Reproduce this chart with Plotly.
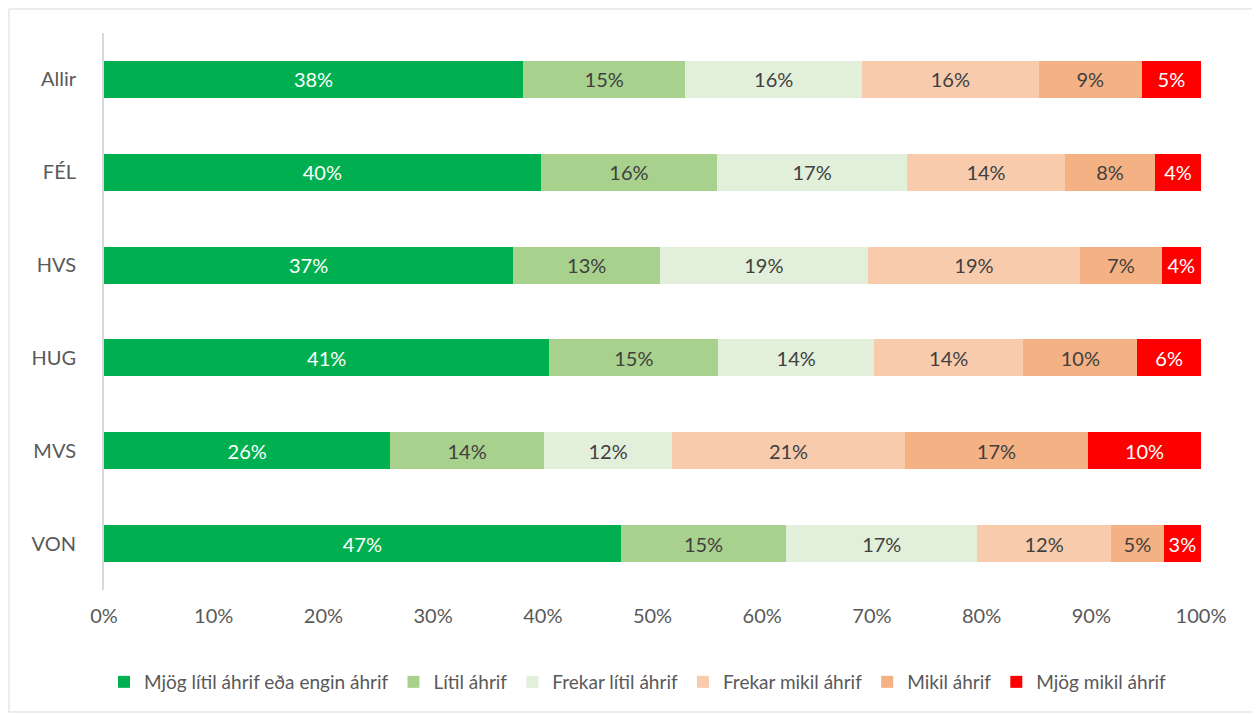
import plotly.graph_objects as go

groups = ["Allir", "FÉL", "HVS", "HUG", "MVS", "VON"]

series_names = [
    "Mjög lítil áhrif eða engin áhrif",
    "Lítil áhrif",
    "Frekar lítil áhrif",
    "Frekar mikil áhrif",
    "Mikil áhrif",
    "Mjög mikil áhrif",
]

mjog_litil = [38.2, 39.8, 37.3, 40.6, 26.1, 47.1]
litil = [14.8, 16.1, 13.4, 15.4, 14.0, 15.1]
frekar_litil = [16.1, 17.3, 18.9, 14.2, 11.7, 17.4]
frekar_mikil = [16.1, 14.4, 19.4, 13.6, 21.2, 12.2]
mikil = [9.4, 8.2, 7.4, 10.4, 16.7, 4.8]
mjog_mikil = [5.4, 4.2, 3.6, 5.8, 10.3, 3.4]

tick_vals = [0, 10, 20, 30, 40, 50, 60, 70, 80, 90, 100]
tick_text = [f"{v}%" for v in tick_vals]

colors = ["#00B050", "#A9D18E", "#E2EFDA", "#F8CBAD", "#F4B183", "#FF0000"]
text_colors = ["#FFFFFF", "#404040", "#404040", "#404040", "#404040", "#FFFFFF"]
FONT = "Lato, 'Open Sans', sans-serif"

fig = go.Figure()
for name, vals, col, tcol in zip(
    series_names,
    [mjog_litil, litil, frekar_litil, frekar_mikil, mikil, mjog_mikil],
    colors,
    text_colors,
):
    fig.add_trace(
        go.Bar(
            y=groups,
            x=vals,
            name=name,
            orientation="h",
            marker=dict(color=col, line=dict(width=0)),
            texttemplate="%{x:.0f}%",
            textposition="inside",
            insidetextanchor="middle",
            textangle=0,
            constraintext="none",
            textfont=dict(color=tcol, size=20, family=FONT),
            hoverinfo="skip",
        )
    )

# page has an 8px body margin, so the figure is placed at (8, 8)
OFF = 8
W, H = 1260 - OFF, 715 - OFF
L, R, T, B = 104 - OFF, 59, 33 - OFF, 125
pw, ph = W - L - R, H - T - B

# outer chart border (kept inside the figure)
fig.add_shape(
    type="rect",
    xref="paper",
    yref="paper",
    x0=(-L + 1) / pw,
    x1=(1253 - 104) / pw,
    y0=-(712 - 590) / ph,
    y1=1 + (T - 1) / ph,
    line=dict(color="#D9D9D9", width=1),
    layer="below",
)

fig.update_layout(
    barmode="stack",
    bargap=0.6,
    width=W,
    height=H,
    margin=dict(l=L, r=R, t=T, b=B),
    plot_bgcolor="white",
    paper_bgcolor="white",
    font=dict(family=FONT, size=20, color="#595959"),
    showlegend=True,
    legend=dict(
        orientation="h",
        traceorder="normal",
        x=(638 - 104) / pw,
        xanchor="center",
        y=-(682 - 590) / ph,
        yanchor="middle",
        font=dict(size=19, color="#595959"),
        itemwidth=30,
        tracegroupgap=0,
        bgcolor="rgba(0,0,0,0)",
    ),
)
fig.update_xaxes(
    range=[0, 100],
    tickvals=tick_vals,
    ticktext=tick_text,
    showgrid=False,
    zeroline=False,
    showline=False,
    ticks="",
    ticklabelstandoff=12,
    fixedrange=True,
)
fig.update_yaxes(
    autorange="reversed",
    showgrid=False,
    showline=True,
    linecolor="#D9D9D9",
    linewidth=2,
    ticks="",
    ticklabelstandoff=22,
    fixedrange=True,
)

fig.write_html("out.html")
